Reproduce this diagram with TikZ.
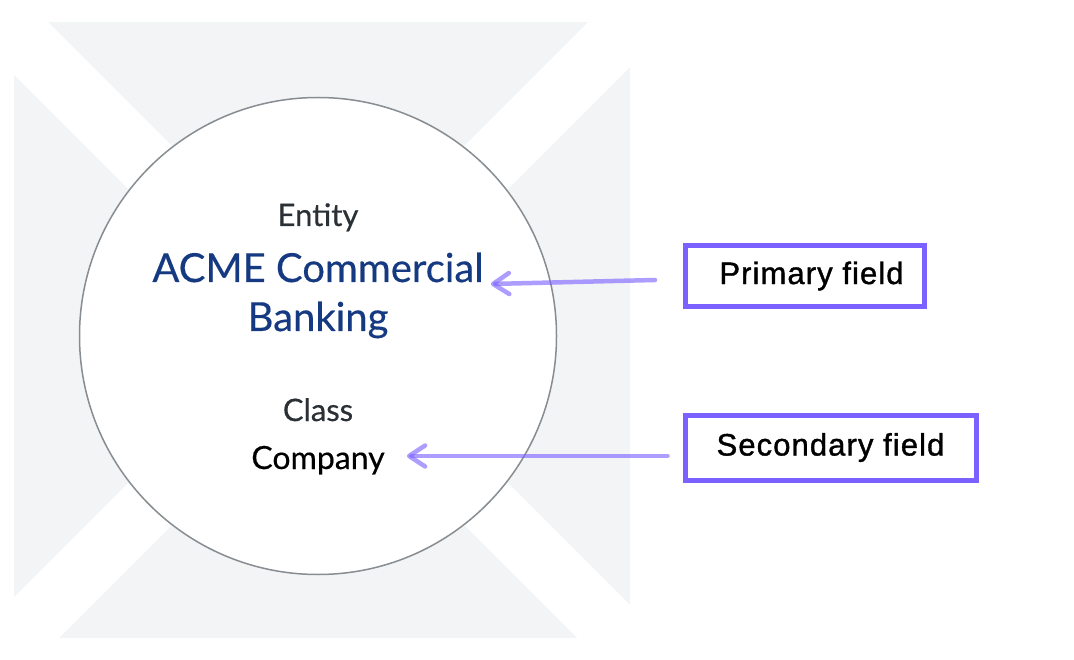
\documentclass[tikz,border=0pt]{standalone}
\usepackage{fontspec}
\setmainfont{Lato}[FakeBold=0.4]
\newfontfamily\boxfont[LetterSpace=3.5,FakeBold=1.2]{Liberation Sans}
\usepackage{tikz}
\usetikzlibrary{arrows.meta,positioning,calc}
\usepackage{xcolor}
\definecolor{bggrey}{HTML}{F3F4F6}
\definecolor{ringgrey}{HTML}{878D91}
\definecolor{labelgrey}{HTML}{2A3035}
\definecolor{acmeblue}{HTML}{163A82}
\definecolor{boxpurple}{HTML}{7B61FF}

\begin{document}
\begin{tikzpicture}[x=1pt,y=-1pt,>=Latex,
  lbl/.style={anchor=base,inner sep=0pt,text=labelgrey,font=\fontsize{31}{37}\selectfont},
  bigname/.style={lbl,text=acmeblue,font=\fontsize{40}{48}\selectfont},
  fieldbox/.style={draw=boxpurple,line width=5pt,fill=white,inner sep=0pt,font=\boxfont\fontsize{31}{37}\selectfont},
  fieldarrow/.style={draw=boxpurple,draw opacity=0.62,line width=4.5pt,line cap=round,
    -{Straight Barb[length=16pt,width=21pt,round]}}]
\useasboundingbox (0,0) rectangle (1074,660);

\fill[bggrey] (48,22) -- (588,22) -- (318,292) -- cycle;
\fill[bggrey] (14,75) -- (14,597) -- (275,336) -- cycle;
\fill[bggrey] (630,67) -- (630,605) -- (361,336) -- cycle;
\fill[bggrey] (59,638) -- (577,638) -- (318,379) -- cycle;

\node[circle,draw=ringgrey,fill=white,line width=1.5pt,minimum size=477pt,inner sep=0pt] (ring) at (318,336) {};

\node[lbl] (entity) at (318,226) {Entity};
\node[bigname] (acme) at (318,282) {ACME Commercial};
\node[bigname] (banking) at (318,331) {Banking};
\node[lbl] (class) at (318,421) {Class};
\node[lbl,text=black,font=\fontsize{32}{38}\selectfont] (company) at (318,469) {Company};

\node[fieldbox,minimum width=239pt,minimum height=61pt] (primary) at (805,276) {\hspace*{13pt}Primary field};
\node[fieldbox,minimum width=291pt,minimum height=65pt] (secondary) at (830.5,447.5) {Secondary field};

\coordinate (cotip) at ([xshift=22pt,yshift=13pt]company.base east);
\draw[fieldarrow] (primary.west) ++(-28,4) -- ([xshift=7pt,yshift=-2pt]acme.base east);
\draw[fieldarrow] (secondary.west |- cotip) ++(-15,0) -- (cotip);
\end{tikzpicture}
\end{document}
